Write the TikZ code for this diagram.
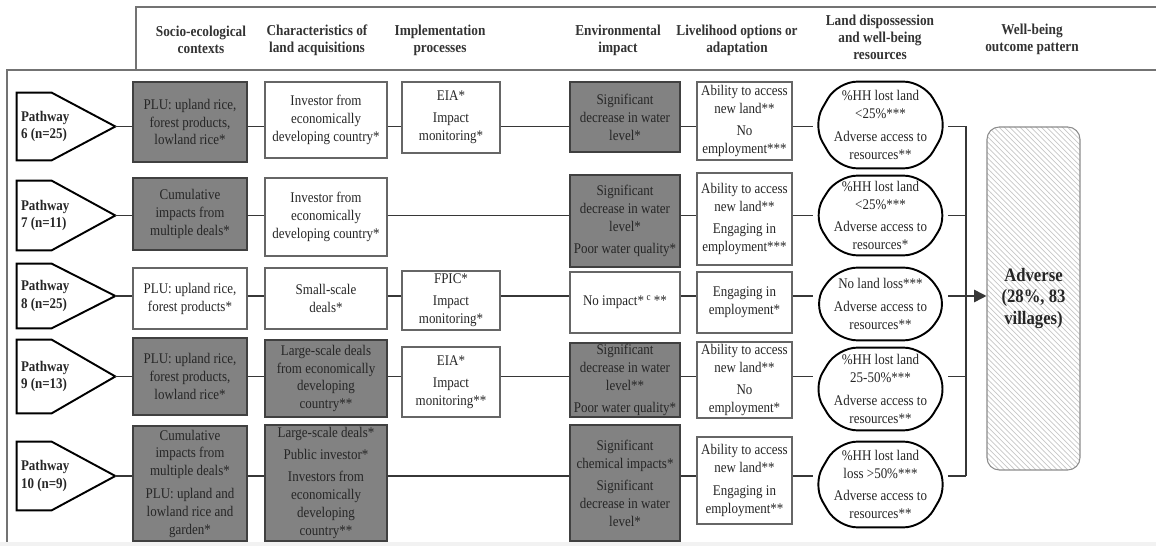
\documentclass[tikz,border=0pt]{standalone}
\usepackage{fontspec}
\setmainfont{Liberation Serif}[FakeStretch=0.88]
\usetikzlibrary{patterns,arrows.meta}
\definecolor{boxgray}{RGB}{130,130,130}
\definecolor{lnc}{RGB}{55,55,55}
\newcommand{\bx}[7]{%
  \node[#6, minimum width={(#4-#2)*0.02cm}, minimum height={(#5-#3)*0.02cm}] (#1) at ({(#2+#4)/2},{(#3+#5)/2}) {#7};}
\newcommand{\pent}[4]{%
  \node[minimum width=1.96cm, minimum height={(#3-#2)*0.02cm}, inner sep=0pt] (#1) at (66,{(#2+#3)/2}) {};
  \draw[pshape] (#1.north west) -- ([xshift=0.7cm]#1.north west) -- (#1.east) -- ([xshift=0.7cm]#1.south west) -- (#1.south west) -- cycle;
  \node[ptxt] (#1t) at ([xshift=2.3pt]#1.west) {#4};}
\newcommand{\outc}[6]{%
  \node[minimum width={(#4-#2)*0.02cm}, minimum height={(#5-#3)*0.02cm}] (#1) at ({(#2+#4)/2},{(#3+#5)/2}) {#6};
  \draw[oshape] (#1.west) -- ([xshift=0.5cm]#1.north west) -- ([xshift=-0.5cm]#1.north east) -- (#1.east) -- ([xshift=-0.5cm]#1.south east) -- ([xshift=0.5cm]#1.south west) -- cycle;}
\begin{document}
\begin{tikzpicture}[x=0.02cm,y=-0.02cm,
  every node/.style={font=\fontsize{8.4}{10.2}\selectfont, align=center, inner sep=0.5pt, text=black!85},
  wbox/.style={draw=black!60, line width=0.6pt, fill=white},
  gbox/.style={draw=black!75, line width=0.6pt, fill=boxgray},
  oshape/.style={draw=black, line width=1.1pt, rounded corners=11pt},
  conn/.style={draw=lnc, line width=0.9pt},
  hdr/.style={font=\bfseries\fontsize{8.6}{9.6}\selectfont, text=black!80},
  ptxt/.style={font=\bfseries\fontsize{8.4}{10}\selectfont, align=left, anchor=west, inner sep=0pt},
  pshape/.style={draw=black, line width=1.1pt},
  advbox/.style={draw=black!45, line width=0.6pt, rounded corners=7pt, pattern=north west lines, pattern color=black!22, font=\bfseries\fontsize{10.8}{12}\selectfont},
]
\useasboundingbox (0,0) rectangle (1156,546);
% frames
\fill[black!5] (0,542) rectangle (1156,546);
\draw[draw=black!55, line width=0.8pt] (136,7) rectangle (1175,70);
\draw[draw=black!55, line width=0.8pt] (7,542) -- (7,70) -- (1175,70);
% headers
\node[hdr] (h1) at (201,40) {Socio-ecological\\contexts};
\node[hdr] (h2) at (317,40) {Characteristics of\\land acquisitions};
\node[hdr] (h3) at (440,40) {Implementation\\processes};
\node[hdr] (h4) at (618,40) {Environmental\\impact};
\node[hdr] (h5) at (737,40) {Livelihood options or\\adaptation};
\node[hdr] (h6) at (880,37) {Land dispossession\\and well-being\\resources};
\node[hdr] (h7) at (1032,39) {Well-being\\outcome pattern};
% row 6
\pent{p6}{93}{160}{Pathway\\6 (n=25)}
\bx{s6}{133}{82}{247}{162}{gbox}{PLU: upland rice,\\forest products,\\lowland rice*}
\bx{c6}{265}{82}{387}{158}{wbox}{Investor from\\economically\\developing country*}
\bx{i6}{402}{82}{500}{153}{wbox}{EIA*\\[2.5pt]Impact\\monitoring*}
\bx{e6}{570}{82}{680}{152}{gbox}{Significant\\decrease in water\\level*}
\bx{l6}{697}{82}{792}{160}{wbox}{Ability to access\\new land**\\[2.5pt]No\\employment***}
\outc{o6}{813}{82}{948}{168}{\%HH lost land\\<25\%***\\[2.5pt]Adverse access to\\resources**}
% row 7
\pent{p7}{181}{250}{Pathway\\7 (n=11)}
\bx{s7}{133}{178}{247}{250}{gbox}{Cumulative\\impacts from\\multiple deals*}
\bx{c7}{265}{178}{387}{256}{wbox}{Investor from\\economically\\developing country*}
\bx{e7}{570}{175}{680}{267}{gbox}{Significant\\decrease in water\\level*\\[2.5pt]Poor water quality*}
\bx{l7}{697}{173}{792}{265}{wbox}{Ability to access\\new land**\\[2.5pt]Engaging in\\employment***}
\outc{o7}{813}{176}{948}{255}{\%HH lost land\\<25\%***\\[2.5pt]Adverse access to\\resources*}
% row 8
\pent{p8}{264}{328}{Pathway\\8 (n=25)}
\bx{s8}{133}{268}{247}{329}{wbox}{PLU: upland rice,\\forest products*}
\bx{c8}{265}{268}{387}{329}{wbox}{Small-scale\\deals*}
\bx{i8}{402}{271}{500}{330}{wbox}{FPIC*\\[2.5pt]Impact\\monitoring*}
\bx{e8}{570}{272}{680}{333}{wbox}{No impact*\,\textsuperscript{c}\,**}
\bx{l8}{697}{272}{792}{333}{wbox}{Engaging in\\employment*}
\outc{o8}{813}{268}{948}{340}{No land loss***\\[2.5pt]Adverse access to\\resources**}
% row 9
\pent{p9}{340}{413}{Pathway\\9 (n=13)}
\bx{s9}{133}{338}{247}{415}{gbox}{PLU: upland rice,\\forest products,\\lowland rice*}
\bx{c9}{265}{340}{387}{417}{gbox}{Large-scale deals\\from economically\\developing\\country**}
\bx{i9}{402}{347}{500}{417}{wbox}{EIA*\\[2.5pt]Impact\\monitoring**}
\bx{e9}{570}{343}{680}{417}{gbox}{Significant\\decrease in water\\level**\\[2.5pt]Poor water quality*}
\bx{l9}{697}{342}{792}{418}{wbox}{Ability to access\\new land**\\[2.5pt]No\\employment*}
\outc{o9}{813}{348}{948}{430}{\%HH lost land\\25-50\%***\\[2.5pt]Adverse access to\\resources**}
% row 10
\pent{p10}{442}{510}{Pathway\\10 (n=9)}
\bx{s10}{133}{426}{247}{541}{gbox}{Cumulative\\impacts from\\multiple deals*\\[2.5pt]PLU: upland and\\lowland rice and\\garden*}
\bx{c10}{265}{425}{387}{541}{gbox}{Large-scale deals*\\[2.5pt]Public investor*\\[2.5pt]Investors from\\economically\\developing\\country**}
\bx{e10}{570}{425}{680}{541}{gbox}{Significant\\chemical impacts*\\[2.5pt]Significant\\decrease in water\\level*}
\bx{l10}{697}{437}{792}{524}{wbox}{Ability to access\\new land**\\[2.5pt]Engaging in\\employment**}
\outc{o10}{813}{442}{948}{527}{\%HH lost land\\loss >50\%***\\[2.5pt]Adverse access to\\resources**}
% outcome
\bx{adv}{987}{127}{1080}{470}{advbox}{Adverse\\(28\%, 83\\villages)}
\coordinate (bus) at (966,297);
% connectors
\foreach \a/\b in {p6/s6,s6/c6,c6/i6,i6/e6,e6/l6,l6/o6}
  \draw[conn] (\a.east |- p6.east) -- (\b.west |- p6.east);
\foreach \a/\b in {p7/s7,s7/c7,c7/e7,e7/l7,l7/o7}
  \draw[conn] (\a.east |- p7.east) -- (\b.west |- p7.east);
\foreach \a/\b in {p8/s8,s8/c8,c8/i8,i8/e8,e8/l8,l8/o8}
  \draw[conn] (\a.east |- p8.east) -- (\b.west |- p8.east);
\foreach \a/\b in {p9/s9,s9/c9,c9/i9,i9/e9,e9/l9,l9/o9}
  \draw[conn] (\a.east |- p9.east) -- (\b.west |- p9.east);
\foreach \a/\b in {p10/s10,s10/c10,c10/e10,e10/l10,l10/o10}
  \draw[conn] (\a.east |- p10.east) -- (\b.west |- p10.east);
\foreach \o/\p in {o6/p6,o7/p7,o8/p8,o9/p9,o10/p10}
  \draw[conn] (\o.east |- \p.east) -- (bus |- \p.east);
\draw[conn] (bus |- p6.east) -- (bus |- p10.east);
\draw[conn, -{Triangle[length=7pt,width=7pt]}] (bus |- p8.east) -- (adv.west |- p8.east);
\end{tikzpicture}
\end{document}
